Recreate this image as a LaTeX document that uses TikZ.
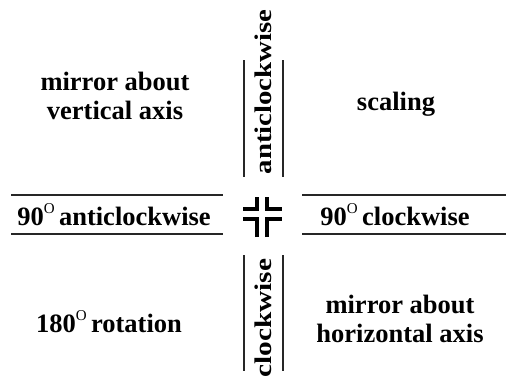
\documentclass[tikz,border=0pt]{standalone}
\usepackage{fontspec}
\usepackage{graphicx}
\setmainfont{Liberation Serif}
\tikzset{
  lbl/.style={font=\fontsize{26.5}{29}\selectfont\bfseries, inner sep=0pt, anchor=base},
  vlbl/.style={font=\fontsize{24}{26}\selectfont\bfseries, inner sep=0pt, rotate=90, anchor=center},
  rule/.style={draw=black!85, line width=2pt},
  cross/.style={draw=black, line width=4pt, line join=miter, line cap=butt}
}
\newcommand{\degsup}{\raisebox{0.42em}{\fontsize{15}{15}\selectfont\mdseries O}}
\begin{document}
\begin{tikzpicture}[x=1pt,y=-1pt]
\useasboundingbox (0,0) rectangle (506,381);
% labels
\node[lbl] (mv) at (115,90) {\begin{tabular}[t]{@{}c@{}}mirror about\\vertical axis\end{tabular}};
\node[lbl] (sc) at (396,110) {scaling};
\node[lbl] (ac) at (114,225) {90\degsup\,anticlockwise};
\node[lbl] (cw) at (395,225) {90\degsup\,clockwise};
\node[lbl] (rot) at (109,332) {180\degsup\,rotation};
\node[lbl] (mh) at (400,313) {\begin{tabular}[t]{@{}c@{}}mirror about\\horizontal axis\end{tabular}};
\node[vlbl] (vac) at (263.5,92) {\scalebox{1.2}[1]{anticlockwise}};
\node[vlbl] (vcw) at (263.5,318) {\scalebox{1.22}[1]{clockwise}};
% rules
\coordinate (l1a) at (11,195); \coordinate (l1b) at (223,195);
\coordinate (l2a) at (11,234); \coordinate (l2b) at (223,234);
\coordinate (r1a) at (302,195); \coordinate (r1b) at (506,195);
\coordinate (r2a) at (302,234); \coordinate (r2b) at (506,234);
\draw[rule] (l1a) -- (l1b);
\draw[rule] (l2a) -- (l2b);
\draw[rule] (r1a) -- (r1b);
\draw[rule] (r2a) -- (r2b);
\coordinate (t1a) at (244,60); \coordinate (t1b) at (244,177);
\coordinate (t2a) at (283,60); \coordinate (t2b) at (283,177);
\coordinate (b1a) at (244,255); \coordinate (b1b) at (244,371);
\coordinate (b2a) at (283,255); \coordinate (b2b) at (283,371);
\draw[rule] (t1a) -- (t1b);
\draw[rule] (t2a) -- (t2b);
\draw[rule] (b1a) -- (b1b);
\draw[rule] (b2a) -- (b2b);
% central mark
\draw[cross] (257,197) -- (257,209) -- (243,209);
\draw[cross] (267,197) -- (267,209) -- (282,209);
\draw[cross] (257,237) -- (257,219) -- (243,219);
\draw[cross] (267,237) -- (267,219) -- (282,219);
\end{tikzpicture}
\end{document}
